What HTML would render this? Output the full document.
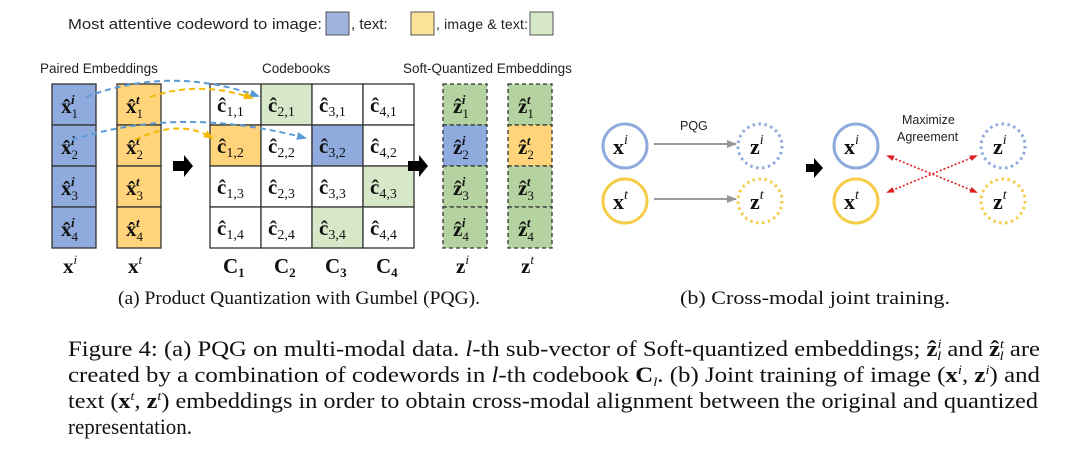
<!DOCTYPE html>
<html><head><meta charset="utf-8"><style>
body{margin:0;background:#fff;}
svg{display:block}
.s{font-family:"Liberation Sans",sans-serif;fill:#222}
.m{font-family:"Liberation Serif",serif;font-weight:bold;fill:#111}
.c{font-family:"Liberation Serif",serif;fill:#111}
</style></head><body>
<svg width="1080" height="465" viewBox="0 0 1080 465" xmlns="http://www.w3.org/2000/svg">
<defs>
<marker id="ab" markerUnits="userSpaceOnUse" markerWidth="10" markerHeight="10" refX="8" refY="5" orient="auto"><path d="M0,1 L10,5 L0,9 z" fill="#5b9bd5"/></marker>
<marker id="ay" markerUnits="userSpaceOnUse" markerWidth="10" markerHeight="10" refX="8" refY="5" orient="auto"><path d="M0,1 L10,5 L0,9 z" fill="#f5b800"/></marker>
<marker id="ag" markerUnits="userSpaceOnUse" markerWidth="10" markerHeight="10" refX="9" refY="5" orient="auto"><path d="M0,1 L10,5 L0,9 z" fill="#999"/></marker>
<marker id="ar" markerUnits="userSpaceOnUse" markerWidth="8" markerHeight="8" refX="6" refY="4" orient="auto-start-reverse"><path d="M0,1 L8,4 L0,7 z" fill="#e02020"/></marker>
</defs>
<text class="s" x="68" y="29" font-size="15" textLength="254" lengthAdjust="spacingAndGlyphs">Most attentive codeword to image:</text>
<rect x="326" y="12" width="23" height="23" fill="#9fb3dc" stroke="#555"/>
<text class="s" x="351" y="29" font-size="15">, text:</text>
<rect x="411" y="12" width="23" height="23" fill="#fde29a" stroke="#555"/>
<text class="s" x="436" y="29" font-size="14" textLength="92" lengthAdjust="spacing">, image &amp; text:</text>
<rect x="530" y="12" width="23" height="23" fill="#d7e8c8" stroke="#555"/>
<text class="s" x="40" y="73" font-size="13.5">Paired Embeddings</text>
<text class="s" x="262" y="73" font-size="13.5">Codebooks</text>
<text class="s" x="403" y="73" font-size="13.5">Soft-Quantized Embeddings</text>
<g stroke="#333" stroke-width="1.3">
<rect x="52" y="84" width="44" height="41" fill="#8faadc"/>
<rect x="52" y="125" width="44" height="41" fill="#8faadc"/>
<rect x="52" y="166" width="44" height="41" fill="#8faadc"/>
<rect x="52" y="207" width="44" height="41" fill="#8faadc"/>
<rect x="117" y="84" width="44" height="41" fill="#ffd47a"/>
<rect x="117" y="125" width="44" height="41" fill="#ffd47a"/>
<rect x="117" y="166" width="44" height="41" fill="#ffd47a"/>
<rect x="117" y="207" width="44" height="41" fill="#ffd47a"/>
</g>
<g class="m" font-size="21">
<text x="61" y="113">x̂<tspan font-size="13" dy="5" font-weight="normal">1</tspan><tspan font-size="13" dx="-7" dy="-14" font-style="italic">i</tspan></text>
<text x="61" y="154">x̂<tspan font-size="13" dy="5" font-weight="normal">2</tspan><tspan font-size="13" dx="-7" dy="-14" font-style="italic">i</tspan></text>
<text x="61" y="195">x̂<tspan font-size="13" dy="5" font-weight="normal">3</tspan><tspan font-size="13" dx="-7" dy="-14" font-style="italic">i</tspan></text>
<text x="61" y="236">x̂<tspan font-size="13" dy="5" font-weight="normal">4</tspan><tspan font-size="13" dx="-7" dy="-14" font-style="italic">i</tspan></text>
<text x="126" y="113">x̂<tspan font-size="13" dy="5" font-weight="normal">1</tspan><tspan font-size="13" dx="-7" dy="-14" font-style="italic">t</tspan></text>
<text x="126" y="154">x̂<tspan font-size="13" dy="5" font-weight="normal">2</tspan><tspan font-size="13" dx="-7" dy="-14" font-style="italic">t</tspan></text>
<text x="126" y="195">x̂<tspan font-size="13" dy="5" font-weight="normal">3</tspan><tspan font-size="13" dx="-7" dy="-14" font-style="italic">t</tspan></text>
<text x="126" y="236">x̂<tspan font-size="13" dy="5" font-weight="normal">4</tspan><tspan font-size="13" dx="-7" dy="-14" font-style="italic">t</tspan></text>
</g>
<g stroke="#333" stroke-width="1.3" fill="#fff">
<rect x="210" y="84" width="51" height="41"/><rect x="261" y="84" width="51" height="41" fill="#d7e8c8"/><rect x="312" y="84" width="51" height="41"/><rect x="363" y="84" width="51" height="41"/>
<rect x="210" y="125" width="51" height="41" fill="#ffd47a"/><rect x="261" y="125" width="51" height="41"/><rect x="312" y="125" width="51" height="41" fill="#8faadc"/><rect x="363" y="125" width="51" height="41"/>
<rect x="210" y="166" width="51" height="41"/><rect x="261" y="166" width="51" height="41"/><rect x="312" y="166" width="51" height="41"/><rect x="363" y="166" width="51" height="41" fill="#d7e8c8"/>
<rect x="210" y="207" width="51" height="41"/><rect x="261" y="207" width="51" height="41"/><rect x="312" y="207" width="51" height="41" fill="#d7e8c8"/><rect x="363" y="207" width="51" height="41"/>
</g>
<g class="m" font-size="21">
<text x="217" y="112">ĉ<tspan font-size="14" font-weight="normal" dy="4">1,1</tspan></text>
<text x="268" y="112">ĉ<tspan font-size="14" font-weight="normal" dy="4">2,1</tspan></text>
<text x="319" y="112">ĉ<tspan font-size="14" font-weight="normal" dy="4">3,1</tspan></text>
<text x="370" y="112">ĉ<tspan font-size="14" font-weight="normal" dy="4">4,1</tspan></text>
<text x="217" y="153">ĉ<tspan font-size="14" font-weight="normal" dy="4">1,2</tspan></text>
<text x="268" y="153">ĉ<tspan font-size="14" font-weight="normal" dy="4">2,2</tspan></text>
<text x="319" y="153">ĉ<tspan font-size="14" font-weight="normal" dy="4">3,2</tspan></text>
<text x="370" y="153">ĉ<tspan font-size="14" font-weight="normal" dy="4">4,2</tspan></text>
<text x="217" y="194">ĉ<tspan font-size="14" font-weight="normal" dy="4">1,3</tspan></text>
<text x="268" y="194">ĉ<tspan font-size="14" font-weight="normal" dy="4">2,3</tspan></text>
<text x="319" y="194">ĉ<tspan font-size="14" font-weight="normal" dy="4">3,3</tspan></text>
<text x="370" y="194">ĉ<tspan font-size="14" font-weight="normal" dy="4">4,3</tspan></text>
<text x="217" y="235">ĉ<tspan font-size="14" font-weight="normal" dy="4">1,4</tspan></text>
<text x="268" y="235">ĉ<tspan font-size="14" font-weight="normal" dy="4">2,4</tspan></text>
<text x="319" y="235">ĉ<tspan font-size="14" font-weight="normal" dy="4">3,4</tspan></text>
<text x="370" y="235">ĉ<tspan font-size="14" font-weight="normal" dy="4">4,4</tspan></text>
</g>
<g stroke="#333" stroke-width="1.3" stroke-dasharray="4,3">
<rect x="443" y="84" width="44" height="41" fill="#b5d3a0"/>
<rect x="443" y="125" width="44" height="41" fill="#8faadc"/>
<rect x="443" y="166" width="44" height="41" fill="#b5d3a0"/>
<rect x="443" y="207" width="44" height="41" fill="#b5d3a0"/>
<rect x="508" y="84" width="44" height="41" fill="#b5d3a0"/>
<rect x="508" y="125" width="44" height="41" fill="#ffd47a"/>
<rect x="508" y="166" width="44" height="41" fill="#b5d3a0"/>
<rect x="508" y="207" width="44" height="41" fill="#b5d3a0"/>
</g>
<g class="m" font-size="21">
<text x="453" y="113">ẑ<tspan font-size="13" dy="5" font-weight="normal">1</tspan><tspan font-size="13" dx="-7" dy="-14" font-style="italic">i</tspan></text>
<text x="453" y="154">ẑ<tspan font-size="13" dy="5" font-weight="normal">2</tspan><tspan font-size="13" dx="-7" dy="-14" font-style="italic">i</tspan></text>
<text x="453" y="195">ẑ<tspan font-size="13" dy="5" font-weight="normal">3</tspan><tspan font-size="13" dx="-7" dy="-14" font-style="italic">i</tspan></text>
<text x="453" y="236">ẑ<tspan font-size="13" dy="5" font-weight="normal">4</tspan><tspan font-size="13" dx="-7" dy="-14" font-style="italic">i</tspan></text>
<text x="518" y="113">ẑ<tspan font-size="13" dy="5" font-weight="normal">1</tspan><tspan font-size="13" dx="-7" dy="-14" font-style="italic">t</tspan></text>
<text x="518" y="154">ẑ<tspan font-size="13" dy="5" font-weight="normal">2</tspan><tspan font-size="13" dx="-7" dy="-14" font-style="italic">t</tspan></text>
<text x="518" y="195">ẑ<tspan font-size="13" dy="5" font-weight="normal">3</tspan><tspan font-size="13" dx="-7" dy="-14" font-style="italic">t</tspan></text>
<text x="518" y="236">ẑ<tspan font-size="13" dy="5" font-weight="normal">4</tspan><tspan font-size="13" dx="-7" dy="-14" font-style="italic">t</tspan></text>
</g>
<g fill="none" stroke-width="2" stroke-dasharray="6,4">
<path d="M86,97 Q170,65 258,96" stroke="#5b9bd5" marker-end="url(#ab)"/>
<path d="M150,97 Q200,80 252,98" stroke="#f5b800" marker-end="url(#ay)"/>
<path d="M72,140 Q180,105 305,138" stroke="#5b9bd5" marker-end="url(#ab)"/>
<path d="M135,140 Q180,118 212,138" stroke="#f5b800" marker-end="url(#ay)"/>
</g>
<path d="M173,161 h11 v-6 l9,11 -9,11 v-6 h-11z" fill="#000"/>
<path d="M408,161 h11 v-6 l9,11 -9,11 v-6 h-11z" fill="#000"/>
<path d="M806,164 h8 v-6 l9,10 -9,10 v-6 h-8z" fill="#000"/>
<g class="m" font-size="21">
<text x="63" y="273">x<tspan font-size="13" dy="-9" font-style="italic" font-weight="normal">i</tspan></text>
<text x="128" y="273">x<tspan font-size="13" dy="-9" font-style="italic" font-weight="normal">t</tspan></text>
<text x="223" y="273">C<tspan font-size="13" dy="4">1</tspan></text>
<text x="274" y="273">C<tspan font-size="13" dy="4">2</tspan></text>
<text x="325" y="273">C<tspan font-size="13" dy="4">3</tspan></text>
<text x="376" y="273">C<tspan font-size="13" dy="4">4</tspan></text>
<text x="456" y="273">z<tspan font-size="13" dy="-9" font-style="italic" font-weight="normal">i</tspan></text>
<text x="521" y="273">z<tspan font-size="13" dy="-9" font-style="italic" font-weight="normal">t</tspan></text>
</g>
<g fill="none" stroke-width="3">
<circle cx="625" cy="146" r="22" stroke="#8faadc"/>
<circle cx="625" cy="201" r="22" stroke="#f5cd4a"/>
<circle cx="760" cy="146" r="22" stroke="#8faadc" stroke-dasharray="2.5,3.5"/>
<circle cx="760" cy="201" r="22" stroke="#f5cd4a" stroke-dasharray="2.5,3.5"/>
<circle cx="856" cy="146" r="22" stroke="#8faadc"/>
<circle cx="856" cy="201" r="22" stroke="#f5cd4a"/>
<circle cx="1003" cy="146" r="22" stroke="#8faadc" stroke-dasharray="2.5,3.5"/>
<circle cx="1003" cy="201" r="22" stroke="#f5cd4a" stroke-dasharray="2.5,3.5"/>
</g>
<line x1="654" y1="144" x2="736" y2="144" stroke="#999" stroke-width="2" marker-end="url(#ag)"/>
<line x1="654" y1="199" x2="736" y2="199" stroke="#999" stroke-width="2" marker-end="url(#ag)"/>
<text class="s" x="680" y="130" font-size="12.5">PQG</text>
<text class="s" x="902" y="124" font-size="12.5">Maximize</text>
<text class="s" x="897" y="141" font-size="12.5">Agreement</text>
<g stroke="#e02020" stroke-width="1.6" stroke-dasharray="2,2">
<line x1="888" y1="156" x2="976" y2="192" marker-start="url(#ar)" marker-end="url(#ar)"/>
<line x1="888" y1="192" x2="976" y2="156" marker-start="url(#ar)" marker-end="url(#ar)"/>
</g>
<g class="m" font-size="22">
<text x="613" y="154">x<tspan font-size="14" dy="-10" font-style="italic" font-weight="normal">i</tspan></text>
<text x="613" y="209">x<tspan font-size="14" dy="-10" font-style="italic" font-weight="normal">t</tspan></text>
<text x="750" y="154">z<tspan font-size="14" dy="-10" font-style="italic" font-weight="normal">i</tspan></text>
<text x="750" y="209">z<tspan font-size="14" dy="-10" font-style="italic" font-weight="normal">t</tspan></text>
<text x="844" y="154">x<tspan font-size="14" dy="-10" font-style="italic" font-weight="normal">i</tspan></text>
<text x="844" y="209">x<tspan font-size="14" dy="-10" font-style="italic" font-weight="normal">t</tspan></text>
<text x="993" y="154">z<tspan font-size="14" dy="-10" font-style="italic" font-weight="normal">i</tspan></text>
<text x="993" y="209">z<tspan font-size="14" dy="-10" font-style="italic" font-weight="normal">t</tspan></text>
</g>
<text class="c" x="118" y="304" font-size="19" textLength="362" lengthAdjust="spacingAndGlyphs">(a) Product Quantization with Gumbel (PQG).</text>
<text class="c" x="680" y="304" font-size="19" textLength="270" lengthAdjust="spacingAndGlyphs">(b) Cross-modal joint training.</text>
<g class="c" font-size="22">
<text x="68" y="356" textLength="972" lengthAdjust="spacingAndGlyphs">Figure 4: (a) PQG on multi-modal data. <tspan font-style="italic">l</tspan>-th sub-vector of Soft-quantized embeddings; <tspan font-weight="bold">ẑ</tspan><tspan font-size="13" dy="-8" font-style="italic">i</tspan><tspan font-size="13" dx="-4" dy="12" font-style="italic">l</tspan><tspan dy="-4"> and </tspan><tspan font-weight="bold">ẑ</tspan><tspan font-size="13" dy="-8" font-style="italic">t</tspan><tspan font-size="13" dx="-4" dy="12" font-style="italic">l</tspan><tspan dy="-4"> are</tspan></text>
<text x="68" y="382" textLength="972" lengthAdjust="spacingAndGlyphs">created by a combination of codewords in <tspan font-style="italic">l</tspan>-th codebook <tspan font-weight="bold">C</tspan><tspan font-size="13" dy="4" font-style="italic">l</tspan><tspan dy="-4">. (b) Joint training of image (</tspan><tspan font-weight="bold">x</tspan><tspan font-size="13" dy="-8" font-style="italic">i</tspan><tspan dy="8">, </tspan><tspan font-weight="bold">z</tspan><tspan font-size="13" dy="-8" font-style="italic">i</tspan><tspan dy="8">) and</tspan></text>
<text x="68" y="408" textLength="970" lengthAdjust="spacingAndGlyphs">text (<tspan font-weight="bold">x</tspan><tspan font-size="13" dy="-8" font-style="italic">t</tspan><tspan dy="8">, </tspan><tspan font-weight="bold">z</tspan><tspan font-size="13" dy="-8" font-style="italic">t</tspan><tspan dy="8">) embeddings in order to obtain cross-modal alignment between the original and quantized</tspan></text>
<text x="68" y="434" textLength="124" lengthAdjust="spacingAndGlyphs">representation.</text>
</g>
</svg>
</body></html>
